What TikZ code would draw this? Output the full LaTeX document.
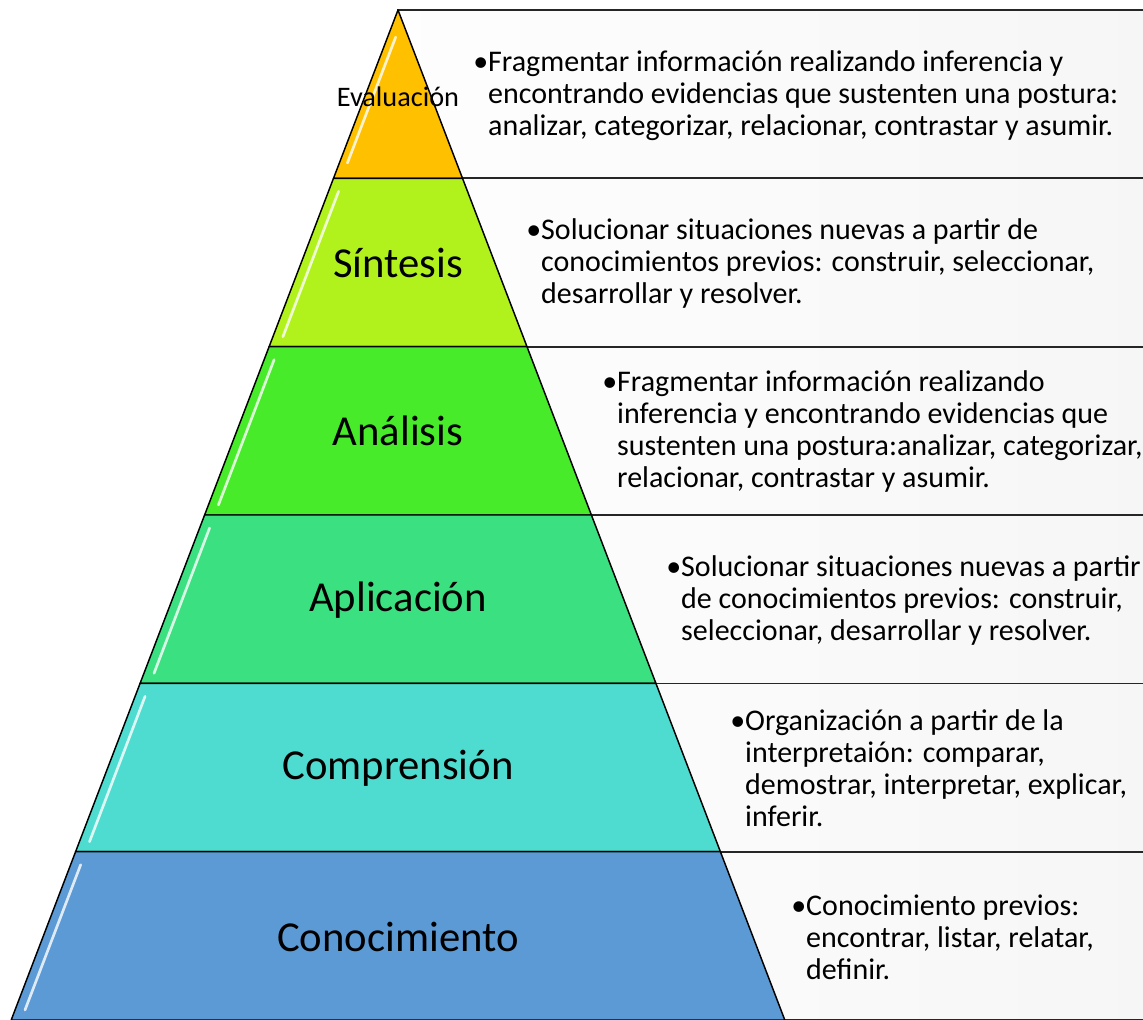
\documentclass[tikz,border=0pt]{standalone}
\usepackage{fontspec}
\setmainfont{Carlito}
\usepackage[svgnames]{xcolor}
\usepackage{tikz}
\usetikzlibrary{calc,positioning}

\definecolor{cEval}{RGB}{255,192,0}
\definecolor{cSint}{RGB}{178,242,28}
\definecolor{cAnal}{RGB}{71,235,42}
\definecolor{cApli}{RGB}{59,224,128}
\definecolor{cComp}{RGB}{78,220,208}
\definecolor{cCono}{RGB}{91,154,213}
\newcommand{\hang}{\phantom{\textbullet}}

\begin{document}
\begin{tikzpicture}[x=0.75pt,y=0.75pt,yscale=-1,xscale=1,
  descbox/.style={draw=black!85,line width=1.2pt,left color=white!99.5!black,right color=white!96.5!black},
  band/.style={draw=black,line width=1.1pt,line join=round},
  gloss/.style={draw=white,line width=2pt,line cap=round,opacity=0.8},
  lvl/.style={inner sep=0.75pt,font=\fontsize{32}{36}\selectfont},
  desc/.style={anchor=west,inner sep=0pt,align=left,font=\fontsize{22.5}{24}\selectfont}]
\useasboundingbox (0,0) rectangle (1143,1020);
\clip (0,0) rectangle (1143,1020);

%Shape: Rectangle [description boxes]
\draw [descbox] (398,10) rectangle (1160,178.3);
\draw [descbox] (398,178.3) rectangle (1160,346.7);
\draw [descbox] (398,346.7) rectangle (1160,515);
\draw [descbox] (398,515) rectangle (1160,683.3);
\draw [descbox] (398,683.3) rectangle (1160,851.7);
\draw [descbox] (398,851.7) rectangle (1160,1020);

%Shape: Triangle [top level]
\draw [band,fill=cEval] (398,10) -- (462.5,178.3) -- (333.5,178.3) -- cycle;
%Shape: Trapezoid
\draw [band,fill=cSint] (333.5,178.3) -- (462.5,178.3) -- (527,346.7) -- (269.1,346.7) -- cycle;
%Shape: Trapezoid
\draw [band,fill=cAnal] (269.1,346.7) -- (527,346.7) -- (591.4,515) -- (204.6,515) -- cycle;
%Shape: Trapezoid
\draw [band,fill=cApli] (204.6,515) -- (591.4,515) -- (655.9,683.3) -- (140.1,683.3) -- cycle;
%Shape: Trapezoid
\draw [band,fill=cComp] (140.1,683.3) -- (655.9,683.3) -- (720.4,851.7) -- (75.6,851.7) -- cycle;
%Shape: Trapezoid
\draw [band,fill=cCono] (75.6,851.7) -- (720.4,851.7) -- (784.8,1020) -- (11.2,1020) -- cycle;

%Straight Lines [highlights]
\draw [gloss] (395.7,37) -- (347.4,163);
\draw [gloss] (338.6,191.3) -- (282.9,336.7);
\draw [gloss] (274.1,359.7) -- (218.4,505);
\draw [gloss] (209.6,528) -- (154,673.3);
\draw [gloss] (145.1,696.3) -- (89.5,841.7);
\draw [gloss] (80.7,864.7) -- (25,1010);

% Text Node
\node (eval) [inner sep=0.75pt,font=\fontsize{21.2}{24}\selectfont] at (398,97) {Evaluación};
% Text Node
\node (sint) [lvl] at (398,263) {Síntesis};
% Text Node
\node (anal) [lvl] at (398,431) {Análisis};
% Text Node
\node (apli) [lvl] at (398,600) {Aplicación};
% Text Node
\node (comp) [lvl] at (398,768) {Comprensión};
% Text Node
\node (cono) [lvl] at (398,937) {Conocimiento};

% Text Node
\node (evaltxt) [desc] at (473,96) {\textbullet Fragmentar información realizando inferencia y\\ \hang encontrando evidencias que sustenten una postura:\\ \hang analizar, categorizar, relacionar, contrastar y asumir.};
% Text Node
\node (sinttxt) [desc] at (526,264) {\textbullet Solucionar situaciones nuevas a partir de\\ \hang conocimientos previos: construir, seleccionar,\\ \hang desarrollar y resolver.};
% Text Node
\node (analtxt) [desc] at (602,431) {\textbullet Fragmentar información realizando\\ \hang inferencia y encontrando evidencias que\\ \hang sustenten una postura:analizar, categorizar,\\ \hang relacionar, contrastar y asumir.};
% Text Node
\node (aplitxt) [desc] at (666,600) {\textbullet Solucionar situaciones nuevas a partir\\ \hang de conocimientos previos: construir,\\ \hang seleccionar, desarrollar y resolver.};
% Text Node
\node (comptxt) [desc] at (730,768) {\textbullet Organización a partir de la\\ \hang interpretaión: comparar,\\ \hang demostrar, interpretar, explicar,\\ \hang inferir.};
% Text Node
\node (conotxt) [desc] at (791,937) {\textbullet Conocimiento previos:\\ \hang encontrar, listar, relatar,\\ \hang definir.};

\end{tikzpicture}
\end{document}
